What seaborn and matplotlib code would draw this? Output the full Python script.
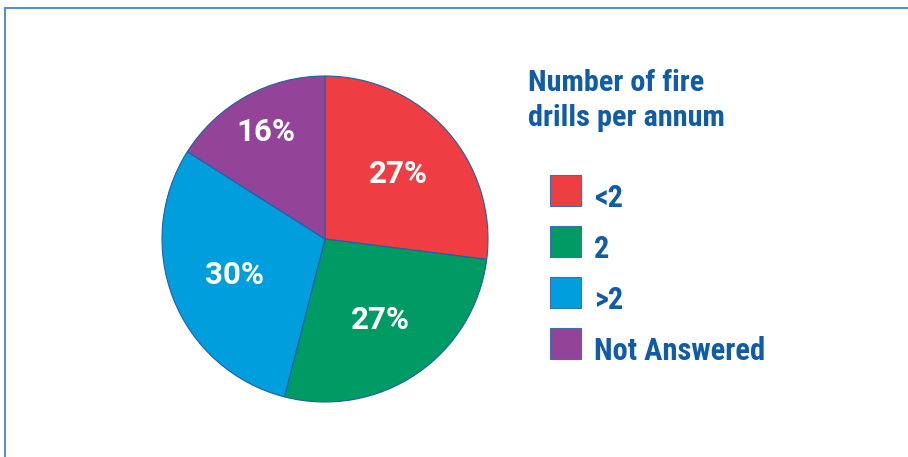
import matplotlib
matplotlib.use("Agg")
import matplotlib.pyplot as plt
import seaborn as sns
from matplotlib.lines import Line2D
from matplotlib.patches import Rectangle, Wedge
from matplotlib.legend_handler import HandlerPatch

# data
categories = ["<2", "2", ">2", "Not Answered"]
shares = [27, 27, 30, 16]
colors = ["#EE3E44", "#009A64", "#009EDD", "#944498"]
legend_title = "Number of fire\ndrills per annum"

sns.set_theme(style="white")
narrow = ["Roboto Condensed", "DejaVu Sans"]
text_blue = "#115CA6"

fig = plt.figure(figsize=(9.08, 4.57), dpi=100)
fig.patch.set_facecolor("white")

# pie axes: centre (325, 239) px, radius 163 px
ax = fig.add_axes([(325 - 163) / 908, (457 - 239 - 163) / 457, 326 / 908, 326 / 457])
wedges, texts, autotexts = ax.pie(
    shares, colors=colors, startangle=90, counterclock=False,
    autopct="%.0f%%", pctdistance=0.6,
    wedgeprops=dict(edgecolor="#1F5FA8", linewidth=0.8),
    textprops=dict(color="white", fontsize=22.5, fontweight="bold", family=["Roboto", "DejaVu Sans"]),
)
# the small slice label sits further out
x, y = autotexts[3].get_position()
autotexts[3].set_position((x * 1.25, y * 1.25))
ax.set_xlim(-1, 1)
ax.set_ylim(-1, 1)
ax.set_aspect("equal")
ax.axis("off")

# legend title
fig.text(528 / 908, 1 - 69 / 457, legend_title, ha="left", va="top",
         color=text_blue, fontsize=21.8, fontweight="bold", family=narrow,
         linespacing=1.33)


# squares sit a little higher than the label text
def raised_square(legend, orig_handle, xdescent, ydescent, width, height, fontsize):
    return Rectangle((-xdescent, -ydescent + 4.3), width, height)


leg = fig.legend(wedges, categories, loc="upper left",
                 bbox_to_anchor=(550 / 908, 1 - 181 / 457),
                 frameon=False, handlelength=1.0, handleheight=1.2,
                 handletextpad=0.45, labelspacing=0.62, borderpad=0,
                 borderaxespad=0,
                 handler_map={Wedge: HandlerPatch(patch_func=raised_square)},
                 prop=dict(family=narrow, weight="bold", size=22))
for t in leg.get_texts():
    t.set_color(text_blue)
for h in leg.legend_handles:
    h.set_edgecolor("#3A6FB0")
    h.set_linewidth(0.8)

# frame lines at top and left
frame = "#4A8FD0"
fig.add_artist(Line2D([5 / 908, 1], [1 - 8 / 457, 1 - 8 / 457], color=frame, lw=1.4))
fig.add_artist(Line2D([5 / 908, 5 / 908], [0, 1 - 8 / 457], color=frame, lw=1.4))

fig.savefig("out.png", dpi=100)
